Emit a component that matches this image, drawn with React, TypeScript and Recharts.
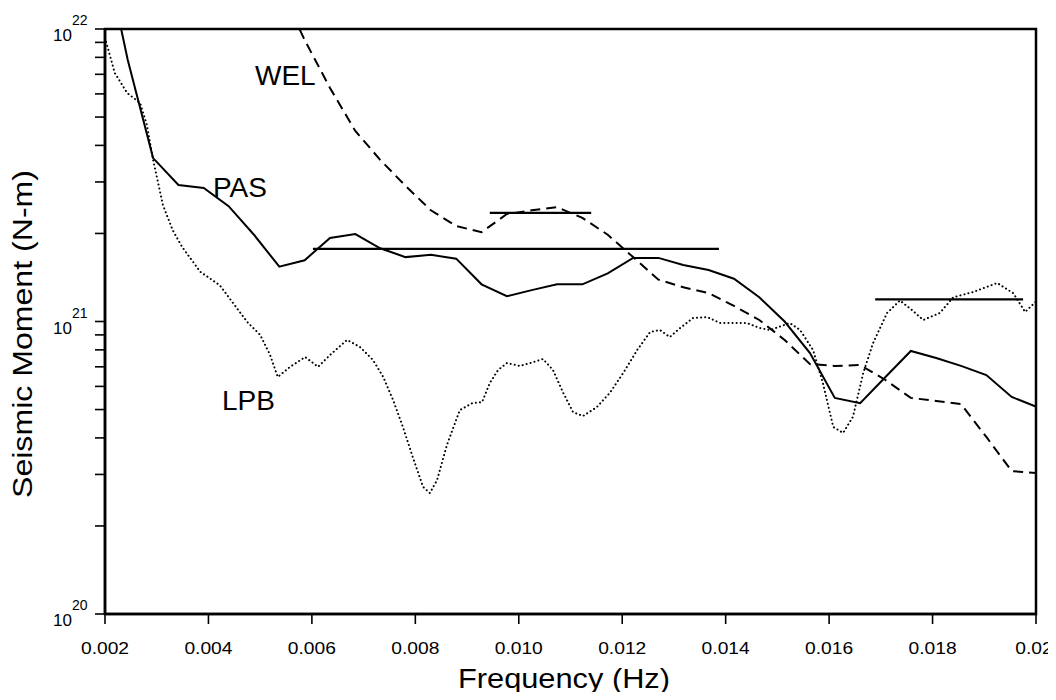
import React from "react";
import { LineChart, Line, XAxis, YAxis, ReferenceArea } from "recharts";

const FONT = '"Liberation Sans", Arial, Helvetica, sans-serif';

// PAS (solid)
const pasFreq = [
  0.00195, 0.00244, 0.00293, 0.00342, 0.00391, 0.00439, 0.00488, 0.00537, 0.00586, 0.00635,
  0.00684, 0.00732, 0.00781, 0.0083, 0.00879, 0.00928, 0.00977, 0.01025, 0.01074, 0.01123,
  0.01172, 0.01221, 0.0127, 0.01318, 0.01367, 0.01416, 0.01465, 0.01514, 0.01563, 0.01611,
  0.0166, 0.01709, 0.01758, 0.01807, 0.01855, 0.01904, 0.01953, 0.02002,
];
const pasMoment = [
  20e21, 7.83e21, 3.62e21, 2.93e21, 2.86e21, 2.48e21, 1.98e21, 1.54e21, 1.62e21, 1.93e21,
  1.99e21, 1.78e21, 1.66e21, 1.69e21, 1.64e21, 1.34e21, 1.22e21, 1.28e21, 1.34e21, 1.34e21,
  1.46e21, 1.65e21, 1.65e21, 1.56e21, 1.5e21, 1.4e21, 1.21e21, 1.0e21, 0.78e21, 0.548e21,
  0.526e21, 0.646e21, 0.793e21, 0.75e21, 0.705e21, 0.656e21, 0.552e21, 0.51e21,
];

// WEL (dashed)
const welFreq = [
  0.00537, 0.00586, 0.00635, 0.00684, 0.00732, 0.00781, 0.0083, 0.00879, 0.00928, 0.00977,
  0.01025, 0.01074, 0.01123, 0.01172, 0.01221, 0.0127, 0.01318, 0.01367, 0.01416, 0.01465,
  0.01514, 0.01563, 0.01611, 0.0166, 0.01709, 0.01758, 0.01807, 0.01855, 0.01904, 0.01953,
  0.02002,
];
const welMoment = [
  14e21, 9.17e21, 6.29e21, 4.48e21, 3.57e21, 2.91e21, 2.4e21, 2.12e21, 2.02e21, 2.33e21,
  2.4e21, 2.46e21, 2.26e21, 1.98e21, 1.66e21, 1.39e21, 1.31e21, 1.25e21, 1.13e21, 1.012e21,
  0.865e21, 0.715e21, 0.705e21, 0.71e21, 0.631e21, 0.548e21, 0.535e21, 0.522e21, 0.403e21,
  0.308e21, 0.303e21,
];

// LPB (dotted)
const lpbFreq = [
  0.002, 0.00219, 0.00243, 0.00268, 0.00281, 0.00293, 0.00312, 0.00331, 0.00349, 0.00384,
  0.00422, 0.00447, 0.00475, 0.005, 0.00519, 0.00534, 0.00558, 0.00587, 0.00612, 0.00635,
  0.00668, 0.00693, 0.00718, 0.00738, 0.00757, 0.00776, 0.00795, 0.00815, 0.00828, 0.00842,
  0.00861, 0.00886, 0.0091, 0.00929, 0.00944, 0.0096, 0.00977, 0.01002, 0.01022, 0.01047,
  0.01066, 0.01086, 0.01105, 0.01124, 0.01151, 0.01176, 0.01202, 0.01229, 0.01254, 0.01273,
  0.01292, 0.01312, 0.01337, 0.01364, 0.01389, 0.01414, 0.01441, 0.01466, 0.01486, 0.01524,
  0.01544, 0.01569, 0.01588, 0.01608, 0.01627, 0.01646, 0.01666, 0.01685, 0.01712, 0.01737,
  0.0176, 0.01782, 0.01814, 0.0184, 0.01878, 0.01925, 0.01956, 0.01979, 0.02,
];
const lpbMoment = [
  9.32e21, 7.07e21, 6.04e21, 5.58e21, 4.7e21, 3.57e21, 2.5e21, 2.05e21, 1.8e21, 1.48e21,
  1.33e21, 1.16e21, 0.996e21, 0.9e21, 0.77e21, 0.646e21, 0.7e21, 0.756e21, 0.7e21, 0.768e21,
  0.865e21, 0.818e21, 0.739e21, 0.646e21, 0.539e21, 0.436e21, 0.344e21, 0.272e21, 0.259e21, 0.287e21,
  0.378e21, 0.498e21, 0.526e21, 0.53e21, 0.616e21, 0.683e21, 0.721e21, 0.705e21, 0.721e21, 0.744e21,
  0.683e21, 0.57e21, 0.49e21, 0.475e21, 0.51e21, 0.57e21, 0.667e21, 0.799e21, 0.921e21, 0.935e21,
  0.885e21, 0.95e21, 1.028e21, 1.036e21, 0.988e21, 0.988e21, 0.988e21, 0.95e21, 0.935e21, 0.988e21,
  0.935e21, 0.799e21, 0.616e21, 0.436e21, 0.416e21, 0.472e21, 0.667e21, 0.844e21, 1.069e21, 1.18e21,
  1.095e21, 1.012e21, 1.069e21, 1.21e21, 1.26e21, 1.354e21, 1.25e21, 1.078e21, 1.17e21,
];

// Horizontal average levels
const level1Freq = [0.00602, 0.01387];
const level1Moment = [1.77e21, 1.77e21];
const level2Freq = [0.00944, 0.0114];
const level2Moment = [2.35e21, 2.35e21];
const level3Freq = [0.01689, 0.01975];
const level3Moment = [1.19e21, 1.19e21];

const xTicks = [0.002, 0.004, 0.006, 0.008, 0.01, 0.012, 0.014, 0.016, 0.018, 0.02];
const xTickLabels = ["0.002", "0.004", "0.006", "0.008", "0.010", "0.012", "0.014", "0.016", "0.018", "0.02"];
const yTicks = [
  1e20, 2e20, 3e20, 4e20, 5e20, 6e20, 7e20, 8e20, 9e20,
  1e21, 2e21, 3e21, 4e21, 5e21, 6e21, 7e21, 8e21, 9e21, 1e22,
];

const toPoints = (fs: number[], ms: number[]) => fs.map((f, i) => ({ f, m: ms[i] }));

const pasData = toPoints(pasFreq, pasMoment);
const welData = toPoints(welFreq, welMoment);
const lpbData = toPoints(lpbFreq, lpbMoment);
const l1Data = toPoints(level1Freq, level1Moment);
const l2Data = toPoints(level2Freq, level2Moment);
const l3Data = toPoints(level3Freq, level3Moment);

const emWidth = (s: string) =>
  s.split("").reduce((a, c) => a + (c === "." ? 0.278 : 0.556), 0);

const XTick = (props: any) => {
  const { x, y, payload } = props;
  const idx = xTicks.findIndex((t) => Math.abs(t - payload.value) < 1e-9);
  const label = idx >= 0 ? xTickLabels[idx] : String(payload.value);
  const fs = 17;
  return (
    <text
      x={x}
      y={y + 28}
      textAnchor="middle"
      fontSize={fs}
      fontFamily={FONT}
      fill="#000"
      textLength={emWidth(label) * fs * 1.13}
      lengthAdjust="spacingAndGlyphs"
    >
      {label}
    </text>
  );
};

const YTick = (props: any) => {
  const { x, y, payload } = props;
  const v = payload.value;
  const exp = Math.round(Math.log10(v));
  const isMajor = Math.abs(v - Math.pow(10, exp)) <= v * 1e-6;
  const right = x - 21;
  return (
    <g>
      <line x1={x + 2} x2={x + 12} y1={y} y2={y} stroke="#000" strokeWidth={1.6} />
      {isMajor && (
        <>
          <text x={right} y={y + 12} textAnchor="end" fontSize={17} fontFamily={FONT} fill="#000">
            10
          </text>
          <text x={right} y={y - 4} textAnchor="start" fontSize={14} fontFamily={FONT} fill="#000">
            {exp}
          </text>
        </>
      )}
    </g>
  );
};

export default function App() {
  return (
    <div style={{ position: "relative", width: 1040, height: 684 }}>
      <LineChart
        width={1040}
        height={684}
        margin={{ top: 21, right: 12, bottom: 18, left: 7 }}
      >
        <XAxis
          type="number"
          dataKey="f"
          domain={[0.002, 0.02]}
          ticks={xTicks}
          allowDataOverflow
          height={60}
          tickSize={10}
          axisLine={{ stroke: "#000", strokeWidth: 2.5 }}
          tickLine={{ stroke: "#000", strokeWidth: 1.6 }}
          tick={(p: any) => <XTick {...p} />}
        />
        <YAxis
          type="number"
          scale="log"
          domain={[1e20, 1e22]}
          ticks={yTicks}
          allowDataOverflow
          width={90}
          tickSize={10}
          axisLine={{ stroke: "#000", strokeWidth: 2.5 }}
          tickLine={false}
          tick={(p: any) => <YTick {...p} />}
          interval={0}
        />
        <ReferenceArea
          x1={0.002}
          x2={0.02}
          y1={1e20}
          y2={1e22}
          fill="none"
          fillOpacity={0}
          stroke="#000"
          strokeWidth={2.5}
        />
        <Line
          data={lpbData}
          dataKey="m"
          stroke="#000"
          strokeWidth={2}
          strokeDasharray="0.1 4"
          strokeLinecap="round"
          dot={false}
          type="linear"
          isAnimationActive={false}
        />
        <Line
          data={welData}
          dataKey="m"
          stroke="#000"
          strokeWidth={2}
          strokeDasharray="10 6"
          dot={false}
          type="linear"
          isAnimationActive={false}
        />
        <Line
          data={pasData}
          dataKey="m"
          stroke="#000"
          strokeWidth={2}
          dot={false}
          type="linear"
          isAnimationActive={false}
        />
        <Line data={l1Data} dataKey="m" stroke="#000" strokeWidth={2.2} dot={false} isAnimationActive={false} />
        <Line data={l2Data} dataKey="m" stroke="#000" strokeWidth={2.2} dot={false} isAnimationActive={false} />
        <Line data={l3Data} dataKey="m" stroke="#000" strokeWidth={2.2} dot={false} isAnimationActive={false} />
      </LineChart>
      <svg
        width={1040}
        height={692}
        style={{ position: "absolute", left: 0, top: 0, pointerEvents: "none" }}
      >
        <text x={247} y={77} fontSize={28} fontFamily={FONT} fill="#000">WEL</text>
        <text x={205} y={189} fontSize={28} fontFamily={FONT} fill="#000">PAS</text>
        <text x={214} y={402} fontSize={28} fontFamily={FONT} fill="#000">LPB</text>
        <text
          x={450}
          y={680}
          fontSize={27}
          fontFamily={FONT}
          fill="#000"
          textLength={212}
          lengthAdjust="spacingAndGlyphs"
        >
          Frequency (Hz)
        </text>
        <text
          x={24}
          y={326}
          fontSize={27}
          fontFamily={FONT}
          fill="#000"
          textAnchor="middle"
          transform="rotate(-90 24 326)"
          textLength={328}
          lengthAdjust="spacingAndGlyphs"
        >
          Seismic Moment (N-m)
        </text>
      </svg>
    </div>
  );
}
